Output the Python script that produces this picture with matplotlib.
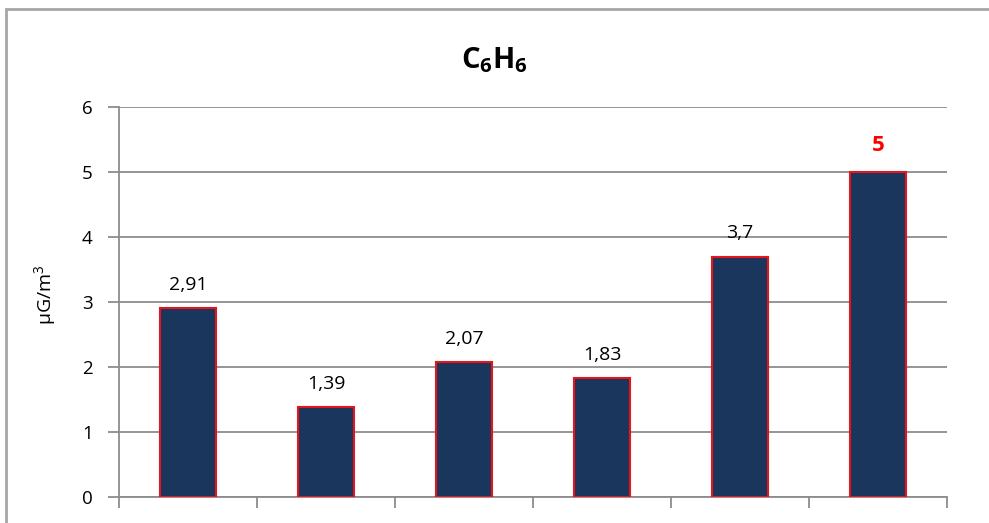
import matplotlib
matplotlib.use("Agg")
import matplotlib.pyplot as plt
from matplotlib.patches import Rectangle

# Benzene concentration by site/period
categories = ["1", "2", "3", "4", "5", "6"]
values = [2.91, 1.39, 2.07, 1.83, 3.7, 5.0]
value_labels = ["2,91", "1,39", "2,07", "1,83", "3,7", "5"]
y_ticks = [0, 1, 2, 3, 4, 5, 6]

plt.rcParams["font.family"] = ["Open Sans", "DejaVu Sans"]

W, H = 989, 523
fig = plt.figure(figsize=(W / 100, H / 100), dpi=100)

# outer chart frame
fig.patches.append(Rectangle((6 / W, -0.05), 1.1, 1 - 9 / H + 0.05,
                             transform=fig.transFigure, fill=False,
                             edgecolor="#a6a6a6", linewidth=2.0))

ax = fig.add_axes([119 / W, 1 - 497 / H, (947 - 119) / W, (497 - 107) / H])

x = list(range(len(categories)))
ax.bar(x, values, width=0.4, color="#1b365d", edgecolor="#e8141c",
       linewidth=1.5, zorder=3)

ax.set_xlim(-0.5, len(categories) - 0.5)
ax.set_ylim(0, 6)
ax.set_yticks(y_ticks)
ax.set_yticklabels([str(t) for t in y_ticks], fontsize=13.5)
ax.set_xticks([i - 0.5 for i in range(len(categories) + 1)])
ax.set_xticklabels([])
ax.yaxis.grid(True, color="#8c8c8c", linewidth=1.3, zorder=0)
ax.set_axisbelow(True)

for s in ["top", "right"]:
    ax.spines[s].set_visible(False)
for s in ["left", "bottom"]:
    ax.spines[s].set_color("#8c8c8c")
    ax.spines[s].set_linewidth(1.3)
ax.tick_params(axis="both", color="#8c8c8c", width=1.3, length=8)
ax.tick_params(axis="y", pad=11)

for i, (v, lab) in enumerate(zip(values, value_labels)):
    if i == len(values) - 1:
        ax.annotate(lab, (i, v), xytext=(0, 15), textcoords="offset points",
                    ha="center", va="baseline", fontsize=16, fontweight="bold",
                    color="#ff0000")
    else:
        ax.annotate(lab, (i, v), xytext=(0, 13), textcoords="offset points",
                    ha="center", va="baseline", fontsize=14, color="black")

ax.set_ylabel(r"µG/m$^\mathregular{3}$", fontsize=14)
ax.yaxis.set_label_coords(-(119 - 59) / (947 - 119), (497 - 295) / (497 - 107))
fig.text(0.5, 1 - 60 / H, r"C$_\mathregular{6}$H$_\mathregular{6}$",
         ha="center", va="center", fontsize=21, fontweight="bold")

fig.savefig("out.png", dpi=100)
